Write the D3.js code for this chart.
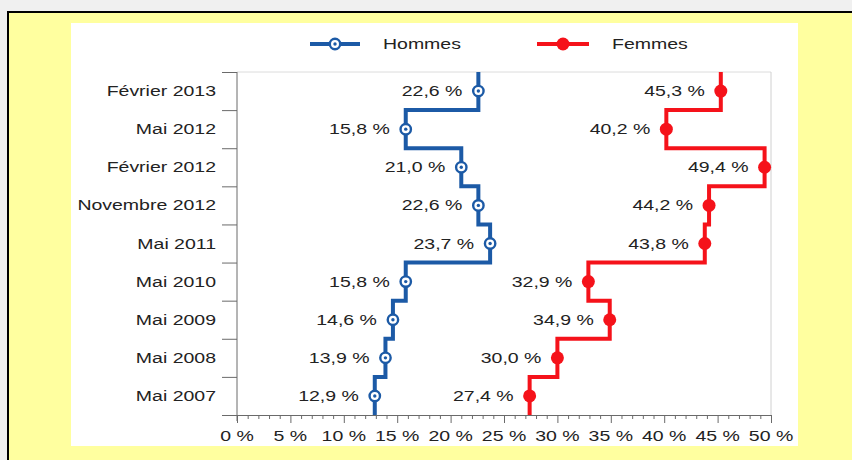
<!DOCTYPE html>
<html>
<head>
<meta charset="utf-8">
<script src="https://cdn.jsdelivr.net/npm/d3@7"></script>
<style>
  html, body { margin: 0; padding: 0; background: #f0f0f0; }
  svg { display: block; }
  text { font-family: "Liberation Sans", Arial, sans-serif; fill: #222; }
</style>
</head>
<body>
<svg id="chart" width="852" height="460"></svg>
<script>
const categories = ["Février 2013", "Mai 2012", "Février 2012", "Novembre 2012", "Mai 2011",
                    "Mai 2010", "Mai 2009", "Mai 2008", "Mai 2007"];
const hommes = [22.6, 15.8, 21.0, 22.6, 23.7, 15.8, 14.6, 13.9, 12.9];
const femmes = [45.3, 40.2, 49.4, 44.2, 43.8, 32.9, 34.9, 30.0, 27.4];
const seriesNames = ["Hommes", "Femmes"];
const xTickValues = [0, 5, 10, 15, 20, 25, 30, 35, 40, 45, 50];
const xTickLabels = ["0 %", "5 %", "10 %", "15 %", "20 %", "25 %", "30 %", "35 %", "40 %", "45 %", "50 %"];

const BLUE = "#1c5aa6", RED = "#f5121a", AXIS = "#6a6a6a", STRETCH = 1.3;
const svg = d3.select("#chart");

// backgrounds
svg.append("rect").attr("x", 0).attr("y", 0).attr("width", 852).attr("height", 460).attr("fill", "#f0f0f0");
svg.append("rect").attr("x", 8).attr("y", 12).attr("width", 852).attr("height", 460)
  .attr("fill", "#ffff9f").attr("stroke", "#000").attr("stroke-width", 2);
svg.append("rect").attr("x", 71).attr("y", 23).attr("width", 727).attr("height", 423).attr("fill", "#fff");

const x = d3.scaleLinear().domain([0, 50]).range([237, 771]);
const y = d3.scaleBand().domain(categories).range([72, 415]);
const yb = d3.scaleLinear().domain([0, categories.length]).range([72, 415]);

function sText(g, tx, ty, str, anchor, size) {
  return g.append("text")
    .attr("transform", `translate(${tx},${ty}) scale(${STRETCH},1)`)
    .attr("text-anchor", anchor || "start")
    .attr("font-size", size || 15)
    .text(str);
}

// frame lines (top and right)
svg.append("line").attr("x1", x(0)).attr("x2", x(50)).attr("y1", yb(0)).attr("y2", yb(0))
  .attr("stroke", "#dcdcdc");
svg.append("line").attr("x1", x(50)).attr("x2", x(50)).attr("y1", yb(0)).attr("y2", yb(categories.length))
  .attr("stroke", "#d0d0d0");

// y axis (ticks at band boundaries)
const yAxis = svg.append("g").attr("transform", `translate(${x(0)},0)`)
  .call(d3.axisLeft(yb).tickValues(d3.range(0, categories.length + 1)).tickSize(15).tickSizeOuter(0).tickFormat(""));
yAxis.select(".domain").remove();
yAxis.selectAll("line").attr("stroke", AXIS);
svg.append("line").attr("x1", x(0)).attr("x2", x(0)).attr("y1", yb(0)).attr("y2", yb(categories.length) + 6)
  .attr("stroke", AXIS);

// x axis
const xAxis = svg.append("g").attr("transform", `translate(0,${yb(categories.length)})`)
  .call(d3.axisBottom(x).tickValues(d3.range(0, 51)).tickSize(4).tickSizeOuter(0).tickFormat(""));
xAxis.selectAll("line").attr("stroke", AXIS).attr("y2", d => d % 5 === 0 ? 8 : 4);
xAxis.select(".domain").attr("stroke", AXIS);
const xLab = svg.append("g");
xTickValues.forEach((v, i) => sText(xLab, x(v), yb(categories.length) + 26, xTickLabels[i], "middle"));

// category labels
const cLab = svg.append("g");
categories.forEach(c => sText(cLab, 216, y(c) + y.bandwidth() / 2 + 5, c, "end"));

// step lines
function stepPath(vals) {
  const p = d3.path();
  p.moveTo(x(vals[0]), yb(0));
  vals.forEach((v, i) => {
    p.lineTo(x(v), yb(i));
    p.lineTo(x(v), yb(i + 1));
  });
  return p.toString();
}
const fmt = v => d3.format(".1f")(v).replace(".", ",") + " %";

function drawSeries(vals, color, filled) {
  const g = svg.append("g");
  g.append("path").attr("d", stepPath(vals)).attr("fill", "none")
    .attr("stroke", color).attr("stroke-width", 4).attr("stroke-linejoin", "miter");
  vals.forEach((v, i) => {
    const cy = y(categories[i]) + y.bandwidth() / 2;
    if (filled) {
      g.append("circle").attr("cx", x(v)).attr("cy", cy).attr("r", 6.5).attr("fill", color);
    } else {
      g.append("circle").attr("cx", x(v)).attr("cy", cy).attr("r", 5.2).attr("fill", "#fff")
        .attr("stroke", color).attr("stroke-width", 2.4);
      g.append("circle").attr("cx", x(v)).attr("cy", cy).attr("r", 1.7).attr("fill", color);
    }
    sText(g, x(v) - 16, cy + 5, fmt(v), "end");
  });
}
drawSeries(hommes, BLUE, false);
drawSeries(femmes, RED, true);

// legend
const leg = svg.append("g");
const legY = 44;
leg.append("line").attr("x1", 310).attr("x2", 360).attr("y1", legY).attr("y2", legY)
  .attr("stroke", BLUE).attr("stroke-width", 4);
leg.append("circle").attr("cx", 335).attr("cy", legY).attr("r", 5.2).attr("fill", "#fff")
  .attr("stroke", BLUE).attr("stroke-width", 2.4);
leg.append("circle").attr("cx", 335).attr("cy", legY).attr("r", 1.7).attr("fill", BLUE);
sText(leg, 383, legY + 5, seriesNames[0], "start");
leg.append("line").attr("x1", 537).attr("x2", 589).attr("y1", legY).attr("y2", legY)
  .attr("stroke", RED).attr("stroke-width", 4);
leg.append("circle").attr("cx", 563).attr("cy", legY).attr("r", 6.5).attr("fill", RED);
sText(leg, 612, legY + 5, seriesNames[1], "start");
</script>
</body>
</html>
